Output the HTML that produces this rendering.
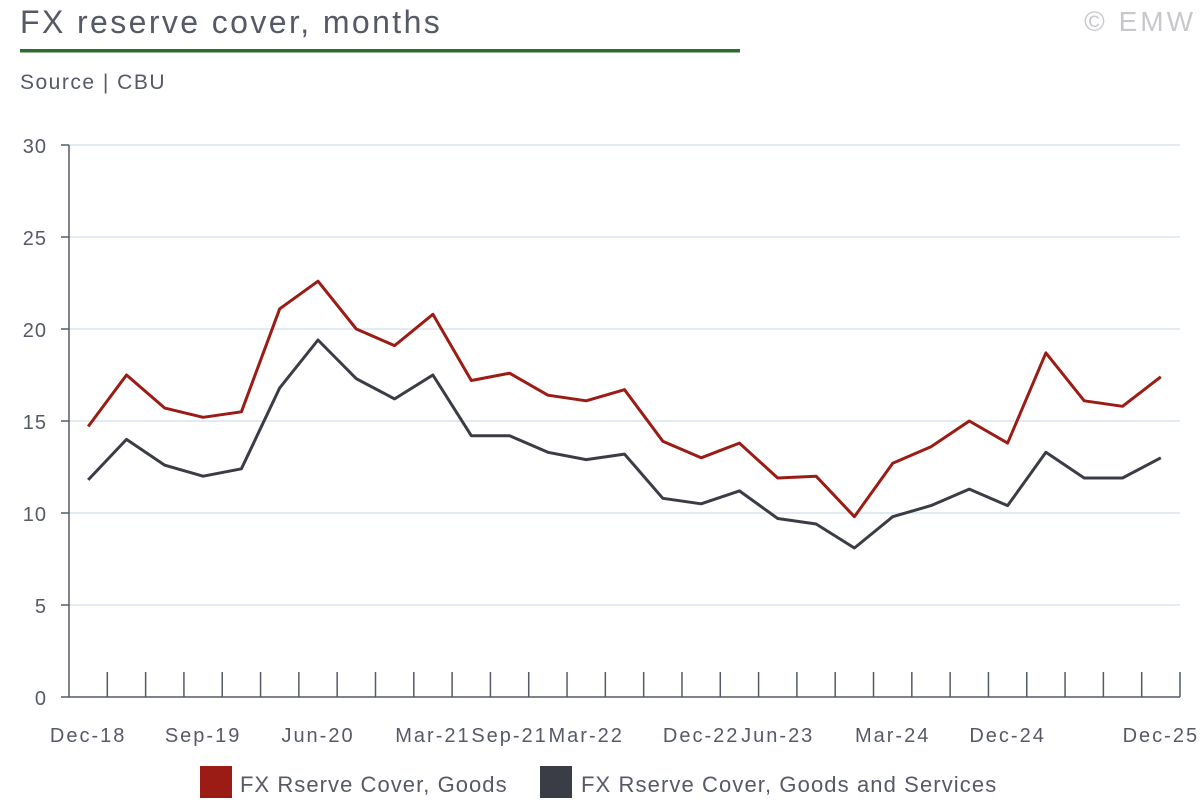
<!DOCTYPE html>
<html><head><meta charset="utf-8"><style>
body{margin:0;background:#fff;width:1200px;height:800px;overflow:hidden;font-family:"Liberation Sans",sans-serif}
</style></head><body>
<svg width="1200" height="800" xmlns="http://www.w3.org/2000/svg" font-family="Liberation Sans, sans-serif">
<text x="20" y="33" font-size="32" letter-spacing="2.4" fill="#555a66">FX reserve cover, months</text>
<text x="1196" y="31" font-size="28" letter-spacing="3" fill="#c8c8cc" text-anchor="end">© EMW</text>
<rect x="20" y="49" width="720" height="3.5" fill="#2e6b2e"/>
<text x="20" y="89" font-size="21" letter-spacing="1.5" fill="#555a66">Source | CBU</text>
<g stroke="#d8e4ee" stroke-width="1.5">
<line x1="69" x2="1180" y1="145" y2="145"/><line x1="69" x2="1180" y1="237" y2="237"/>
<line x1="69" x2="1180" y1="329" y2="329"/><line x1="69" x2="1180" y1="421" y2="421"/>
<line x1="69" x2="1180" y1="513" y2="513"/><line x1="69" x2="1180" y1="605" y2="605"/>
</g>
<g font-size="20" fill="#555a66" text-anchor="end" letter-spacing="1">
<text x="47" y="153">30</text><text x="47" y="245">25</text><text x="47" y="337">20</text>
<text x="47" y="429">15</text><text x="47" y="521">10</text><text x="47" y="613">5</text><text x="47" y="705">0</text>
</g>
<g stroke="#555a66" stroke-width="1.5" id="ax"></g>
<g id="lbl" font-size="20" fill="#555a66" text-anchor="middle" letter-spacing="2"></g>
<polyline id="r" fill="none" stroke="#9b1c15" stroke-width="3" stroke-linejoin="round"/>
<polyline id="d" fill="none" stroke="#3a3d45" stroke-width="3" stroke-linejoin="round"/>
<rect x="200" y="766" width="32" height="32" fill="#9b1c15"/>
<text x="240" y="792" font-size="22" letter-spacing="1.05" fill="#555a66">FX Rserve Cover, Goods</text>
<rect x="540" y="766" width="32" height="32" fill="#3a3d45"/>
<text x="581" y="792" font-size="22" letter-spacing="1.1" fill="#555a66">FX Rserve Cover, Goods and Services</text>
</svg>
<script>
var R=[14.7,17.5,15.7,15.2,15.5,21.1,22.6,20.0,19.1,20.8,17.2,17.6,16.4,16.1,16.7,13.9,13.0,13.8,11.9,12.0,9.8,12.7,13.6,15.0,13.8,18.7,16.1,15.8,17.4];
var D=[11.8,14.0,12.6,12.0,12.4,16.8,19.4,17.3,16.2,17.5,14.2,14.2,13.3,12.9,13.2,10.8,10.5,11.2,9.7,9.4,8.1,9.8,10.4,11.3,10.4,13.3,11.9,11.9,13.0];
var x0=69,w=1111/29,y0=697,k=18.4,ns="http://www.w3.org/2000/svg";
function pts(a){return a.map(function(v,i){return (x0+w*(i+.5)).toFixed(1)+","+(y0-v*k).toFixed(1)}).join(" ")}
document.getElementById("r").setAttribute("points",pts(R));
document.getElementById("d").setAttribute("points",pts(D));
var ax=document.getElementById("ax");
function ln(a,b,c,d){var l=document.createElementNS(ns,"line");l.setAttribute("x1",a);l.setAttribute("y1",b);l.setAttribute("x2",c);l.setAttribute("y2",d);ax.appendChild(l);}
ln(69,145,69,697);ln(69,697,1180,697);
for(var i=1;i<=29;i++){var x=x0+w*i;ln(x,672,x,697);}
ln(61,145,69,145);ln(61,237,69,237);ln(61,329,69,329);ln(61,421,69,421);ln(61,513,69,513);ln(61,605,69,605);ln(61,697,69,697);
var L={0:"Dec-18",3:"Sep-19",6:"Jun-20",9:"Mar-21",11:"Sep-21",13:"Mar-22",16:"Dec-22",18:"Jun-23",21:"Mar-24",24:"Dec-24",28:"Dec-25"};
var g=document.getElementById("lbl");
for(var i in L){var t=document.createElementNS(ns,"text");t.setAttribute("x",x0+w*(+i+.5));t.setAttribute("y",742);t.textContent=L[i];g.appendChild(t);}
</script>
</body></html>
